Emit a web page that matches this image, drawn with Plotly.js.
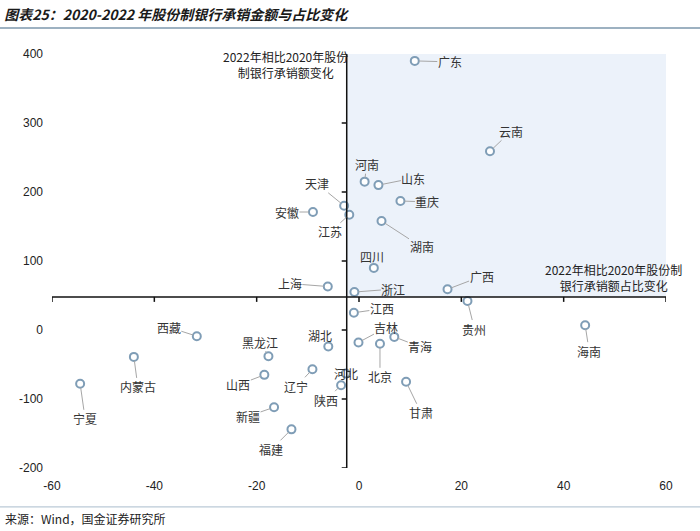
<!DOCTYPE html>
<html>
<head>
<meta charset="utf-8">
<script src="https://cdn.plot.ly/plotly-3.0.1.min.js"></script>
<style>html,body{margin:0;padding:0;background:#fff;}</style>
</head>
<body>
<div id="chart" style="width:700px;height:531px;"></div>
<script>
// Data
const provinces = ["广东","云南","河南","山东","重庆","天津","江苏","安徽","湖南","四川","上海","浙江","广西","贵州","海南","西藏","内蒙古","宁夏","江西","吉林","北京","青海","甘肃","湖北","黑龙江","河北","辽宁","山西","新疆","福建","陕西"];
const shareChange = [10.9,25.6,1.1,3.8,8.1,-2.9,-1.9,-9.0,4.4,2.9,-6.1,-0.9,17.3,21.2,44.2,-31.7,-44.0,-54.5,-1.0,-0.1,4.1,6.9,9.2,-6.0,-17.7,-2.6,-9.1,-18.5,-16.6,-13.2,-3.5];
const amountChange = [390,259,215,210,187,180,167,171,158,90,63,55,59,42,7,-9,-39,-78,25,-18,-20,-10,-75,-24,-38,-63,-57,-65,-112,-144,-80];
const xTicks = [-60,-40,-20,0,20,40,60];
const yTicks = [-200,-100,0,100,200,300,400];
const xCross = -2.4;   // where the vertical axis crosses
const yCross = 48;     // where the horizontal axis crosses

// label offsets (pixels) for each province label
const labelDx = [35,21,2,35,27,-27,-19,-26,40,-2,-38,39,34,7,4,-28,4,5,28,28,0,26,15,-8,-8,0,-16,-26,-26,-20,-15];
const labelDy = [1,-20,-17,-7,1,-22,17,0,26,-11,-3,-3,-13,28,26,-9,30,35,-4,-15,33,10,31,-11,-14,1,17,10,9,20,15];

const cjk = "'Noto Sans CJK SC', sans-serif";
const labelFont = {family: cjk, size: 12, color: "#333"};

const annotations = provinces.map((p, i) => {
  const near = Math.hypot(labelDx[i], labelDy[i]) < 3;
  return {
    x: shareChange[i], y: amountChange[i], xref: "x", yref: "y",
    text: p, font: labelFont, borderpad: 0,
    showarrow: !near, arrowhead: 0, arrowwidth: 1, arrowcolor: "#a6a6a6",
    ax: labelDx[i], ay: labelDy[i], standoff: 4,
    xanchor: "center", yanchor: "middle"
  };
});

annotations.push({
  xref: "paper", yref: "paper", x: 0.3795, y: 0.9746, xanchor: "center", yanchor: "middle",
  text: "2022年相比2020年股份<br>制银行承销额变化", showarrow: false,
  font: {family: cjk, size: 12, color: "#222"}, align: "center"
});
annotations.push({
  xref: "paper", yref: "paper", x: 0.9153, y: 0.459, xanchor: "center", yanchor: "middle",
  text: "2022年相比2020年股份制<br>银行承销额占比变化", showarrow: false,
  font: {family: cjk, size: 12, color: "#222"}, align: "center"
});
annotations.push({
  xref: "paper", yref: "paper", x: -0.08, y: -0.123, xanchor: "left", yanchor: "middle",
  text: "来源：Wind，国金证券研究所", showarrow: false,
  font: {family: cjk, size: 12, color: "#222"}
});

const shapes = [
  // shaded quadrant
  {type: "rect", xref: "x", yref: "y", x0: xCross, x1: 60, y0: yCross, y1: 400,
   fillcolor: "#ecf2fa", line: {width: 0}, layer: "below"},
  // axes crossing lines
  {type: "line", xref: "x", yref: "y", x0: -60, x1: 60, y0: yCross, y1: yCross,
   line: {color: "#111", width: 1.5}},
  {type: "line", xref: "x", yref: "y", x0: xCross, x1: xCross, y0: -200, y1: 400,
   line: {color: "#111", width: 1.5}},
  // title underline and source line
  {type: "line", xref: "paper", yref: "paper", x0: -0.0847, x1: 1.0554, y0: 1.0628, y1: 1.0628,
   line: {color: "#7d97ad", width: 1.5}},
  {type: "line", xref: "paper", yref: "paper", x0: -0.0847, x1: 1.0554, y0: -0.094, y1: -0.094,
   line: {color: "#a9bccc", width: 1}}
];
xTicks.forEach(t => shapes.push({
  type: "line", xref: "x", yref: "y", xsizemode: "scaled", ysizemode: "pixel",
  yanchor: yCross, x0: t, x1: t, y0: 0, y1: -5, line: {color: "#111", width: 1.5}
}));
yTicks.forEach(t => shapes.push({
  type: "line", xref: "x", yref: "y", xsizemode: "pixel", xanchor: xCross,
  x0: 0, x1: -5, y0: t, y1: t, line: {color: "#111", width: 1.5}
}));

const trace = {
  type: "scatter", mode: "markers",
  x: shareChange, y: amountChange, text: provinces,
  marker: {symbol: "circle", size: 8, color: "#ffffff", line: {color: "#7f9db6", width: 2}},
  hoverinfo: "text+x+y", cliponaxis: false
};

const layout = {
  width: 700, height: 531,
  margin: {l: 52, r: 34, t: 54, b: 63},
  paper_bgcolor: "#fff", plot_bgcolor: "#fff",
  showlegend: false,
  title: {
    text: "<b><i>图表25：2020-2022 年股份制银行承销金额与占比变化</i></b>",
    x: 0.006, xanchor: "left", xref: "container",
    y: 0.972, yanchor: "middle", yref: "container",
    font: {family: cjk, size: 14, color: "#1a1a1a"}
  },
  xaxis: {
    range: [-60, 60], tickvals: xTicks, ticktext: xTicks.map(String),
    showgrid: false, zeroline: false, showline: false, ticks: "",
    ticklabelstandoff: 9,
    tickfont: {family: "'Liberation Sans Narrow','Liberation Sans', sans-serif", size: 12, color: "#222"}
  },
  yaxis: {
    range: [-200, 400], tickvals: yTicks, ticktext: yTicks.map(String),
    showgrid: false, zeroline: false, showline: false, ticks: "",
    ticklabelstandoff: 8,
    tickfont: {family: "'Liberation Sans', sans-serif", size: 12, color: "#222"}
  },
  shapes: shapes,
  annotations: annotations
};

Plotly.newPlot("chart", [trace], layout, {displayModeBar: false, staticPlot: true});
</script>
</body>
</html>
